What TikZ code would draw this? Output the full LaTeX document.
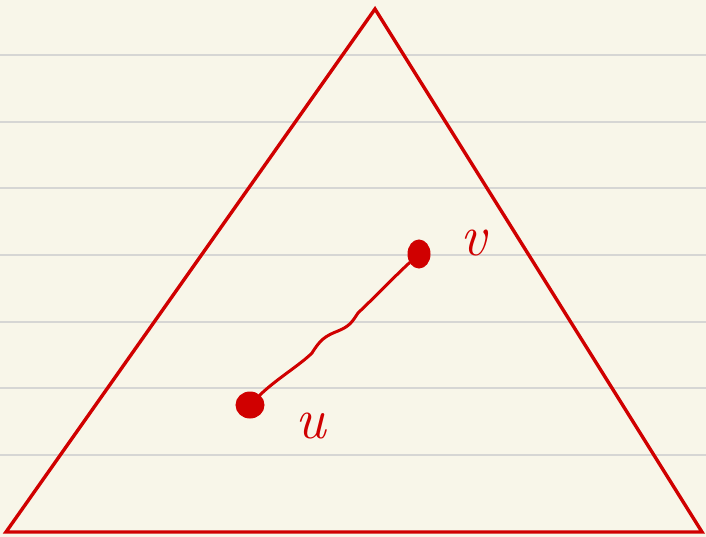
\documentclass[tikz,border=0pt]{standalone}
\usetikzlibrary{calc,shapes.geometric}
\definecolor{paper}{HTML}{F8F6E9}
\definecolor{rule}{HTML}{D6D6D4}
\definecolor{ink}{HTML}{D00000}
\tikzset{
  ruleline/.style={draw=rule, line width=1.2pt},
  inkline/.style={draw=ink, line width=3.4pt, line join=miter},
  pen/.style={draw=ink, line width=3pt, line cap=round, line join=round},
  vertexdot/.style={draw=ink, fill=ink, ellipse, inner sep=0pt, line width=1pt},
  lab/.style={text=ink, font=\fontsize{58}{58}\selectfont\itshape, inner sep=0pt}
}
\begin{document}
\begin{tikzpicture}[x=1pt,y=-1pt]
\useasboundingbox[fill=paper] (0,0) rectangle (706,537);
\foreach \y in {55,122,188,255,322,388,455}{
  \draw[ruleline] (0,\y) -- (706,\y);
}
\coordinate (T) at (375,9);
\coordinate (L) at (6,532);
\coordinate (R) at (702,532);
\draw[inkline] (T) -- (R) -- (L) -- cycle;
\node[vertexdot, minimum width=28pt, minimum height=26pt] (u) at (250,405) {};
\node[vertexdot, minimum width=22pt, minimum height=28pt] (v) at (419,254) {};
\draw[pen] (u) .. controls (275,380) and (300,365) .. (312,353)
  .. controls (320,340) and (325,336) .. (338,331)
  .. controls (350,326) and (352,322) .. (358,313)
  .. controls (380,292) and (395,276) .. (v);
\node[lab] (lu) at (311,426) {u};
\node[lab] (lv) at (474,243) {v};
\end{tikzpicture}
\end{document}
